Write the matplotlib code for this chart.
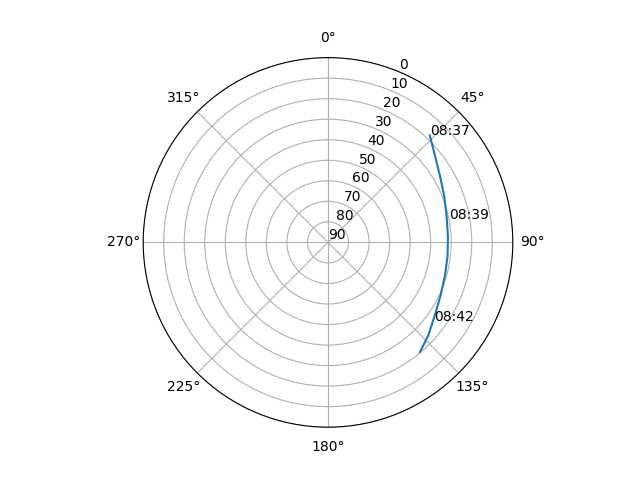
"""
  Sky track of a satellite pass (azimuth / elevation) on a polar plot.
"""

import numpy as np
import matplotlib
matplotlib.use('Agg')
import matplotlib.pyplot as plt

################################################################################
# Data.                                               #
################################################################################

az_deg = [43.6, 50.9, 59.1, 68.0, 77.2, 86.7, 96.2, 105.8, 115.2, 124.3, 132.8, 140.0]
el_deg = [18.1, 22.9, 26.5, 29.0, 30.8, 31.5, 31.4, 30.8, 29.4, 27.0, 23.4, 20.3]

label_txt = ['08:37', '08:39', '08:42']
label_az  = [43.6, 79.2, 126.6]
label_el  = [18.1, 30.1, 25.6]

################################################################################
# Plot.                                                                        #
################################################################################

fig = plt.figure(figsize=(6.4, 4.8), dpi=100)
ax  = fig.add_subplot(111, projection='polar')

ax.set_theta_zero_location('N')
ax.set_theta_direction(-1)

ax.plot(np.radians(az_deg), el_deg, '-', c='#1f77b4')
for t, a, e in zip(label_txt, label_az, label_el):
    ax.text(np.radians(a), e, t)

ax.set_ylim(90, 0)
ax.set_yticks(range(0, 91, 10))

fig.savefig('out.png', dpi=100)
plt.close()
